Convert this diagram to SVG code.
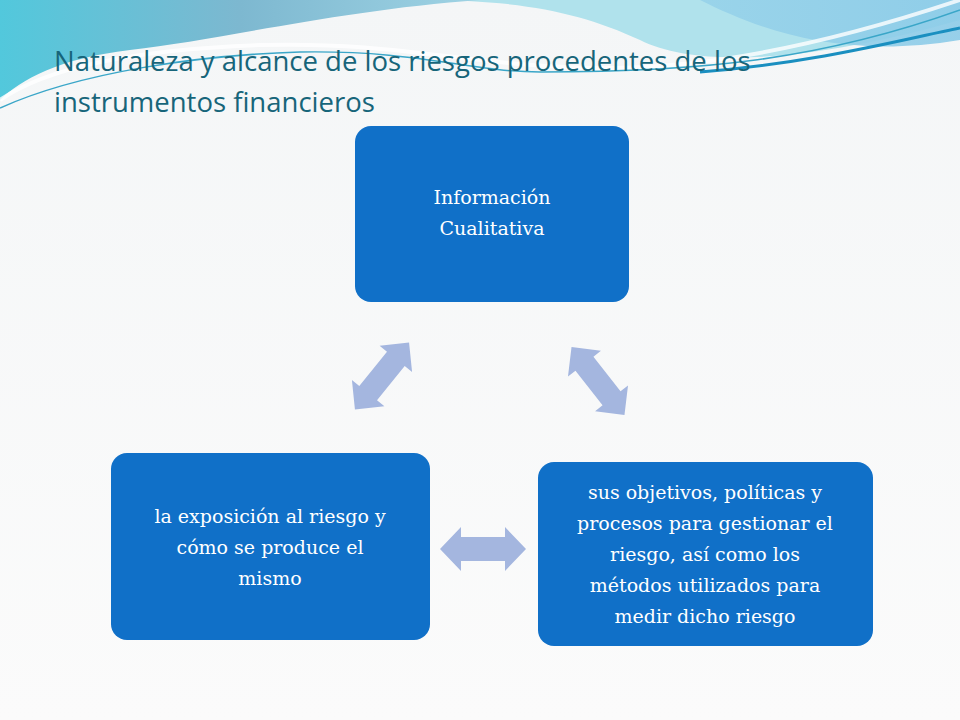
<svg xmlns="http://www.w3.org/2000/svg" width="960" height="720" viewBox="0 0 960 720">
<defs>
<linearGradient id="bg" x1="0" y1="0" x2="0" y2="1"><stop offset="0" stop-color="#f4f6f7"/><stop offset="1" stop-color="#fbfbfb"/></linearGradient>
<linearGradient id="w1" x1="0" y1="0" x2="1" y2="0"><stop offset="0" stop-color="#52c8dc"/><stop offset="0.5" stop-color="#7db8d0"/><stop offset="1" stop-color="#9fd3e4"/></linearGradient>
<linearGradient id="w2" x1="0" y1="0" x2="1" y2="0"><stop offset="0" stop-color="#b4e6ee"/><stop offset="1" stop-color="#8ccbe8"/></linearGradient>
<path id="dbl" d="M-43,0 L-22,-22 L-22,-12 L22,-12 L22,-22 L43,0 L22,22 L22,12 L-22,12 L-22,22 Z"/>
</defs>
<style>
.box{fill:#1070c8}
.arr{fill:#a4b6df}
.t{font-family:"DejaVu Serif",serif;font-size:19px;fill:#fff;text-anchor:middle}
.title{font-family:"Open Sans","Liberation Sans",sans-serif;font-size:27.5px;fill:#17657a}
</style>
<rect width="960" height="720" fill="url(#bg)"/>
<g id="waves">
<path d="M0,0 H960 V20 C820,60 700,70 640,40 C580,12 520,0 420,0 Z" fill="#b0e2ec"/>
<path d="M0,0 H700 C760,30 840,60 960,40 V0 Z" fill="url(#w2)" opacity="0.9"/>
<path d="M0,0 H480 C340,10 220,40 130,50 C60,58 20,80 0,100 Z" fill="url(#w1)"/>
<path d="M0,100 C40,72 120,50 260,45 C380,42 440,58 520,64 C600,70 720,80 960,0" fill="none" stroke="#ffffff" stroke-width="4" opacity="0.8"/>
<path d="M0,108 C80,72 200,55 300,52 C420,50 470,72 540,72 C700,72 820,60 960,10" fill="none" stroke="#3aa6c8" stroke-width="1.5"/>
<path d="M700,72 C820,62 900,40 960,28" fill="none" stroke="#1a8fc0" stroke-width="3"/>
</g>
<text class="title" x="54" y="71">Naturaleza y alcance de los riesgos procedentes de los</text>
<text class="title" x="54" y="112">instrumentos financieros</text>
<g id="connectors">
<use href="#dbl" class="arr" transform="translate(483,549)"/>
<use href="#dbl" class="arr" transform="translate(382,376) rotate(-51) scale(1,0.95)"/>
<use href="#dbl" class="arr" transform="translate(598,381) rotate(52) scale(1,0.95)"/>
</g>
<g id="n1"><rect class="box" x="355" y="126" width="274" height="176" rx="16"/>
<text class="t" x="492" y="204">Información</text><text class="t" x="492" y="235">Cualitativa</text></g>
<g id="n2"><rect class="box" x="538" y="462" width="335" height="184" rx="16"/>
<text class="t" x="705" y="499">sus objetivos, políticas y</text><text class="t" x="705" y="530">procesos para gestionar el</text><text class="t" x="705" y="561">riesgo, así como los</text><text class="t" x="705" y="592">métodos utilizados para</text><text class="t" x="705" y="623">medir dicho riesgo</text></g>
<g id="n3"><rect class="box" x="111" y="453" width="319" height="187" rx="16"/>
<text class="t" x="270" y="523">la exposición al riesgo y</text><text class="t" x="270" y="554">cómo se produce el</text><text class="t" x="270" y="585">mismo</text></g>
</svg>
